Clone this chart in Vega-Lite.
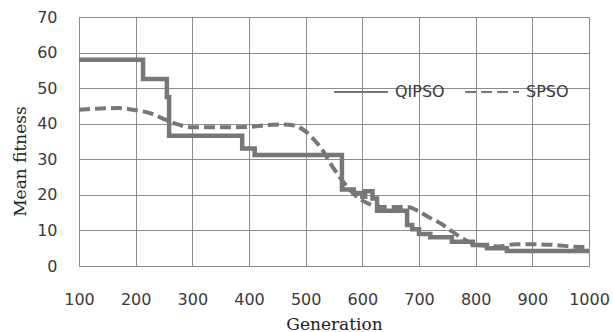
{
  "$schema": "https://vega.github.io/schema/vega-lite/v6.json",
  "width": 510,
  "height": 249,
  "autosize": {"type": "none"},
  "padding": {"left": 79, "top": 17, "right": 24, "bottom": 66},
  "background": "white",
  "config": {
    "view": {"stroke": "#8c8c8c", "strokeWidth": 1},
    "axis": {
      "gridColor": "#8c8c8c",
      "gridOpacity": 1,
      "gridWidth": 1,
      "ticks": false,
      "domain": false,
      "labelFont": "DejaVu Sans",
      "labelFontSize": 16,
      "labelColor": "#3a3a3a",
      "titleFont": "DejaVu Serif",
      "titleFontWeight": "normal",
      "titleColor": "#222222"
    }
  },
  "datasets": {
    "q": [
      {"g": 100, "v": 58, "s": "QIPSO"},
      {"g": 213, "v": 52.6, "s": "QIPSO"},
      {"g": 255, "v": 47.5, "s": "QIPSO"},
      {"g": 259, "v": 36.6, "s": "QIPSO"},
      {"g": 388, "v": 33, "s": "QIPSO"},
      {"g": 410, "v": 31.2, "s": "QIPSO"},
      {"g": 564, "v": 21.5, "s": "QIPSO"},
      {"g": 585, "v": 20.5, "s": "QIPSO"},
      {"g": 600, "v": 19.5, "s": "QIPSO"},
      {"g": 605, "v": 21, "s": "QIPSO"},
      {"g": 618, "v": 19, "s": "QIPSO"},
      {"g": 626, "v": 15.5, "s": "QIPSO"},
      {"g": 679, "v": 11.5, "s": "QIPSO"},
      {"g": 688, "v": 10.3, "s": "QIPSO"},
      {"g": 700, "v": 9, "s": "QIPSO"},
      {"g": 720, "v": 8.1, "s": "QIPSO"},
      {"g": 758, "v": 6.8, "s": "QIPSO"},
      {"g": 795, "v": 5.9, "s": "QIPSO"},
      {"g": 820, "v": 5, "s": "QIPSO"},
      {"g": 855, "v": 4.2, "s": "QIPSO"},
      {"g": 1000, "v": 4.2, "s": "QIPSO"}
    ],
    "p": [
      {"g": 100, "v": 43.9, "s": "SPSO"},
      {"g": 130, "v": 44.2, "s": "SPSO"},
      {"g": 170, "v": 44.4, "s": "SPSO"},
      {"g": 200, "v": 43.8, "s": "SPSO"},
      {"g": 225, "v": 43, "s": "SPSO"},
      {"g": 250, "v": 41.3, "s": "SPSO"},
      {"g": 270, "v": 40, "s": "SPSO"},
      {"g": 300, "v": 39, "s": "SPSO"},
      {"g": 350, "v": 39, "s": "SPSO"},
      {"g": 400, "v": 39.1, "s": "SPSO"},
      {"g": 430, "v": 39.6, "s": "SPSO"},
      {"g": 460, "v": 39.8, "s": "SPSO"},
      {"g": 480, "v": 39.5, "s": "SPSO"},
      {"g": 500, "v": 37.8, "s": "SPSO"},
      {"g": 515, "v": 35.5, "s": "SPSO"},
      {"g": 530, "v": 32.5, "s": "SPSO"},
      {"g": 545, "v": 28.5, "s": "SPSO"},
      {"g": 560, "v": 25, "s": "SPSO"},
      {"g": 575, "v": 22, "s": "SPSO"},
      {"g": 590, "v": 19.5, "s": "SPSO"},
      {"g": 610, "v": 17.6, "s": "SPSO"},
      {"g": 635, "v": 16.6, "s": "SPSO"},
      {"g": 680, "v": 16.6, "s": "SPSO"},
      {"g": 700, "v": 15.3, "s": "SPSO"},
      {"g": 720, "v": 13.5, "s": "SPSO"},
      {"g": 740, "v": 11.8, "s": "SPSO"},
      {"g": 760, "v": 9.5, "s": "SPSO"},
      {"g": 785, "v": 7, "s": "SPSO"},
      {"g": 810, "v": 5.8, "s": "SPSO"},
      {"g": 840, "v": 5.5, "s": "SPSO"},
      {"g": 870, "v": 6.1, "s": "SPSO"},
      {"g": 900, "v": 6.1, "s": "SPSO"},
      {"g": 940, "v": 5.9, "s": "SPSO"},
      {"g": 975, "v": 5.4, "s": "SPSO"},
      {"g": 1000, "v": 5.3, "s": "SPSO"}
    ]
  },
  "encoding": {
    "x": {
      "field": "g", "type": "quantitative",
      "scale": {"domain": [100, 1000], "nice": false, "zero": false},
      "axis": {"values": [100,200,300,400,500,600,700,800,900,1000], "format": "d", "title": "Generation", "titleFontSize": 17, "labelPadding": 25, "titleY": 63, "titleBaseline": "alphabetic", "labelFlush": false}
    },
    "y": {
      "field": "v", "type": "quantitative",
      "scale": {"domain": [0, 70], "nice": false},
      "axis": {"values": [0,10,20,30,40,50,60,70], "title": "Mean fitness", "titleFontSize": 17, "labelPadding": 22, "titleX": -54, "titleY": 144, "titleBaseline": "alphabetic", "titleAnchor": null}
    },
    "strokeDash": {
      "field": "s", "type": "nominal",
      "scale": {"domain": ["QIPSO", "SPSO"], "range": [[1, 0], [11, 5]]},
      "legend": {
        "title": null, "orient": "none", "direction": "horizontal",
        "legendX": 254, "legendY": 47, "padding": 0,
        "symbolType": "stroke", "symbolSize": 2900, "symbolStrokeWidth": 2,
        "symbolStrokeColor": "#777777",
        "labelFont": "DejaVu Sans", "labelFontSize": 16, "labelColor": "#3a3a3a",
        "labelOffset": 6, "columnPadding": 16
      }
    }
  },
  "layer": [
    {
      "data": {"name": "p"},
      "mark": {"type": "line", "interpolate": "monotone", "color": "#777777", "strokeWidth": 4}
    },
    {
      "data": {"name": "q"},
      "mark": {"type": "line", "interpolate": "step-after", "color": "#777777", "strokeWidth": 4.5}
    }
  ]
}
